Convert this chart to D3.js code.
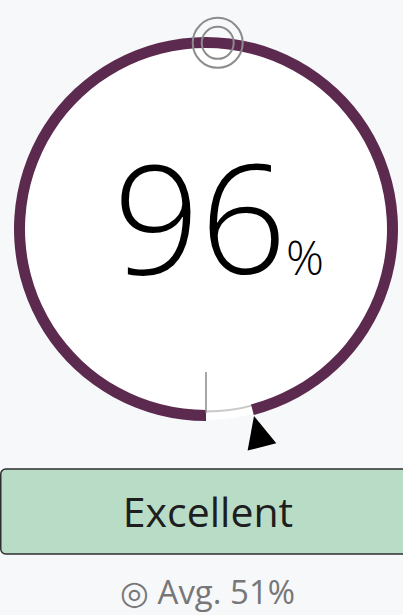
<!DOCTYPE html>
<html>
<head>
<meta charset="utf-8">
<script src="https://cdn.jsdelivr.net/npm/d3@7"></script>
<style>
  html, body { margin: 0; padding: 0; background: #f7f8fa; }
  svg { display: block; }
</style>
</head>
<body>
<svg id="chart" width="403" height="615"></svg>
<script>
// ---- data ----
const scoreValue = [96];
const averageValue = [51];
const ratingLabel = ["Excellent"];
const unitLabel = ["%"];
const avgPrefix = ["◎ Avg. "];

// ---- layout ----
const W = 403, H = 615;
const cx = 206, cy = 229;
const rOuter = 192, rInner = 181;
const rMid = (rOuter + rInner) / 2;

const svg = d3.select("#chart");
const g = svg.append("g").attr("transform", `translate(${cx},${cy})`);

// angle scale: 0% at bottom, clockwise
const angle = d3.scaleLinear().domain([0, 100]).range([Math.PI, 3 * Math.PI]);

// white face
g.append("circle").attr("r", rOuter - 1).attr("fill", "#ffffff");

// track
g.append("circle").attr("r", rInner + 1.5).attr("fill", "none")
  .attr("stroke", "#c9c9c9").attr("stroke-width", 2);

// value arc
const arc = d3.arc().innerRadius(rInner).outerRadius(rOuter);
g.append("path")
  .datum({ startAngle: angle(0), endAngle: angle(scoreValue[0]) })
  .attr("d", arc)
  .attr("fill", "#5c2a4f");

// start tick
g.append("line")
  .attr("x1", 0).attr("x2", 0)
  .attr("y1", rInner - 38).attr("y2", rInner + 3)
  .attr("stroke", "#8a8a8a").attr("stroke-width", 1.5);

// average marker (double circle)
const aA = angle(averageValue[0]);
const ax = rMid * Math.sin(aA), ay = -rMid * Math.cos(aA);
[25, 16].forEach(r => {
  g.append("circle").attr("cx", ax).attr("cy", ay).attr("r", r)
    .attr("fill", "none").attr("stroke", "#8c8c8c").attr("stroke-width", 2);
});

// pointer triangle at value end
const vA = angle(scoreValue[0]);
const ux = Math.sin(vA), uy = -Math.cos(vA);   // radial unit
const px = Math.cos(vA), py = Math.sin(vA);    // tangential unit
const apexR = rOuter + 1, baseR = rOuter + 33, half = 14.8;
const tri = [
  [ux * apexR, uy * apexR],
  [ux * baseR + px * half, uy * baseR + py * half],
  [ux * baseR - px * half, uy * baseR - py * half]
];
g.append("path").attr("d", d3.line()(tri) + "Z").attr("fill", "#000");

// center value text
svg.append("text")
  .attr("x", 200).attr("y", 274)
  .attr("text-anchor", "middle")
  .attr("font-family", "'Open Sans', 'Noto Sans', sans-serif")
  .attr("font-weight", 300)
  .attr("font-size", 152)
  .attr("fill", "#000")
  .text(scoreValue[0]);
svg.append("text")
  .attr("x", 286).attr("y", 275)
  .attr("text-anchor", "start")
  .attr("font-family", "'Open Sans', 'Noto Sans', sans-serif")
  .attr("font-weight", 300)
  .attr("font-size", 47)
  .attr("fill", "#000")
  .text(unitLabel[0]);

// rating box
svg.append("rect")
  .attr("x", 0.75).attr("y", 469).attr("width", 420).attr("height", 85)
  .attr("rx", 5)
  .attr("fill", "#b9dcc6").attr("stroke", "#2e2e2e").attr("stroke-width", 1.5);
svg.append("text")
  .attr("x", 208).attr("y", 527)
  .attr("text-anchor", "middle")
  .attr("font-family", "'Open Sans', 'Noto Sans', sans-serif")
  .attr("font-size", 41)
  .attr("fill", "#1e1e1e")
  .text(ratingLabel[0]);

// average text
svg.append("text")
  .attr("x", 207.5).attr("y", 604)
  .attr("text-anchor", "middle")
  .attr("font-family", "'Open Sans', 'Noto Sans', sans-serif")
  .attr("font-size", 33)
  .attr("fill", "#777777")
  .text(avgPrefix[0] + averageValue[0] + unitLabel[0]);
</script>
</body>
</html>
